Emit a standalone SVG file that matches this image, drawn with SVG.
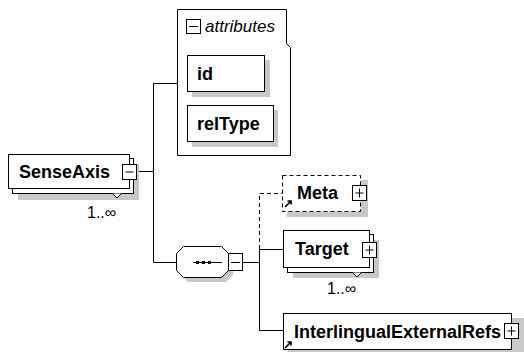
<svg xmlns="http://www.w3.org/2000/svg" width="524" height="352" viewBox="0 0 524 352">
<style>
.box{fill:#fff;stroke:#000;stroke-width:1}
.sh{fill:#c8c8c8}
.ln{fill:none;stroke:#000;stroke-width:1}
.dash{fill:none;stroke:#000;stroke-width:1;stroke-dasharray:4,3}
.t{font-family:"Liberation Sans",Arial,sans-serif;font-weight:bold;font-size:18px;fill:#000}
.it{font-family:"Liberation Sans",Arial,sans-serif;font-style:italic;font-size:17px;fill:#000}
.n{font-family:"Liberation Sans",Arial,sans-serif;font-size:16px;fill:#000}
</style>
<defs>
<g id="minus"><rect x="0" y="0" width="14" height="15" fill="#fff" stroke="#000"/><line x1="3" y1="7.5" x2="11" y2="7.5" stroke="#000"/></g>
<g id="plus"><rect x="0" y="0" width="14" height="15" fill="#fff" stroke="#000"/><line x1="3" y1="7.5" x2="11" y2="7.5" stroke="#000"/><line x1="7" y1="3" x2="7" y2="12" stroke="#000"/></g>
<path id="ref" d="M0,7 L6,1 M2.5,1 H6 V4.5" fill="none" stroke="#000" stroke-width="1.6"/>
</defs>
<g id="connectors">
<polyline class="ln" points="137,171.5 153.5,171.5"/>
<polyline class="ln" points="177,83.5 153.5,83.5 153.5,262.5 176,262.5"/>
<polyline class="ln" points="243,262.5 259.5,262.5"/>
<polyline class="dash" points="259.5,249 259.5,193.5 282,193.5"/>
<polyline class="ln" points="259.5,249.5 283,249.5"/>
<polyline class="ln" points="259.5,249 259.5,330.5 283,330.5"/>
</g>
<g id="SenseAxis">
<rect class="sh" x="18" y="164" width="121" height="36"/>
<rect class="box" x="12.5" y="158.5" width="121" height="35"/>
<rect class="box" x="8.5" y="154.5" width="121" height="34"/>
<path d="M112.5,193.5 L117,198 L121.5,193.5" fill="#fff" stroke="#000"/>
<text class="t" x="19" y="178">SenseAxis</text>
<use href="#minus" x="122.5" y="164.5"/>
<text class="n" x="87" y="218">1..∞</text>
</g>
<g id="attributes">
<polygon class="box" points="177.5,9.5 286.5,9.5 286.5,43.5 290.5,47.5 290.5,155.5 177.5,155.5"/>
<rect x="186.5" y="19.5" width="14" height="14" fill="#fff" stroke="#000"/>
<line x1="189" y1="26.5" x2="198" y2="26.5" stroke="#000"/>
<text class="it" x="205" y="32">attributes</text>
</g>
<g id="id">
<rect class="sh" x="192" y="60" width="78" height="37"/>
<rect class="box" x="187.5" y="55.5" width="77" height="36"/>
<text class="t" x="197" y="80">id</text>
</g>
<g id="relType">
<rect class="sh" x="192" y="110" width="86" height="37"/>
<rect class="box" x="187.5" y="105.5" width="86" height="36"/>
<text class="t" x="197" y="130">relType</text>
</g>
<g id="sequence">
<polygon class="sh" points="188,251 226,251 233,258 233,275 226,282 188,282 181,275 181,258"/>
<polygon class="box" points="183.5,246.5 221.5,246.5 228.5,253.5 228.5,270.5 221.5,277.5 183.5,277.5 176.5,270.5 176.5,253.5"/>
<line x1="193" y1="262.5" x2="222" y2="262.5" stroke="#000"/>
<rect x="196" y="261" width="3" height="3"/>
<rect x="202" y="261" width="3" height="3"/>
<rect x="208" y="261" width="3" height="3"/>
<rect x="228.5" y="253.5" width="14" height="17" fill="#fff" stroke="#000"/>
<line x1="231" y1="262.5" x2="240" y2="262.5" stroke="#000"/>
</g>
<g id="Meta">
<rect class="sh" x="287" y="180" width="81" height="37"/>
<rect x="282.5" y="175.5" width="78" height="36" fill="#fff" stroke="#000" stroke-dasharray="4,3"/>
<text class="t" x="297" y="199">Meta</text>
<use href="#ref" x="285" y="200"/>
<use href="#plus" x="352.5" y="185.5"/>
</g>
<g id="Target">
<rect class="sh" x="293" y="240" width="86" height="38"/>
<rect class="box" x="287.5" y="234.5" width="86" height="38"/>
<rect class="box" x="283.5" y="230.5" width="86" height="37"/>
<path d="M352.5,272.5 L357,277 L361.5,272.5" fill="#fff" stroke="#000"/>
<text class="t" x="295" y="255">Target</text>
<use href="#plus" x="362.5" y="242.5"/>
<text class="n" x="327" y="294">1..∞</text>
</g>
<g id="InterlingualExternalRefs">
<rect class="sh" x="288" y="318" width="236" height="34"/>
<rect class="box" x="283.5" y="313.5" width="228" height="36"/>
<text class="t" x="294" y="338">InterlingualExternalRefs</text>
<use href="#ref" x="285" y="341"/>
<use href="#plus" x="504.5" y="323.5"/>
</g>
</svg>
